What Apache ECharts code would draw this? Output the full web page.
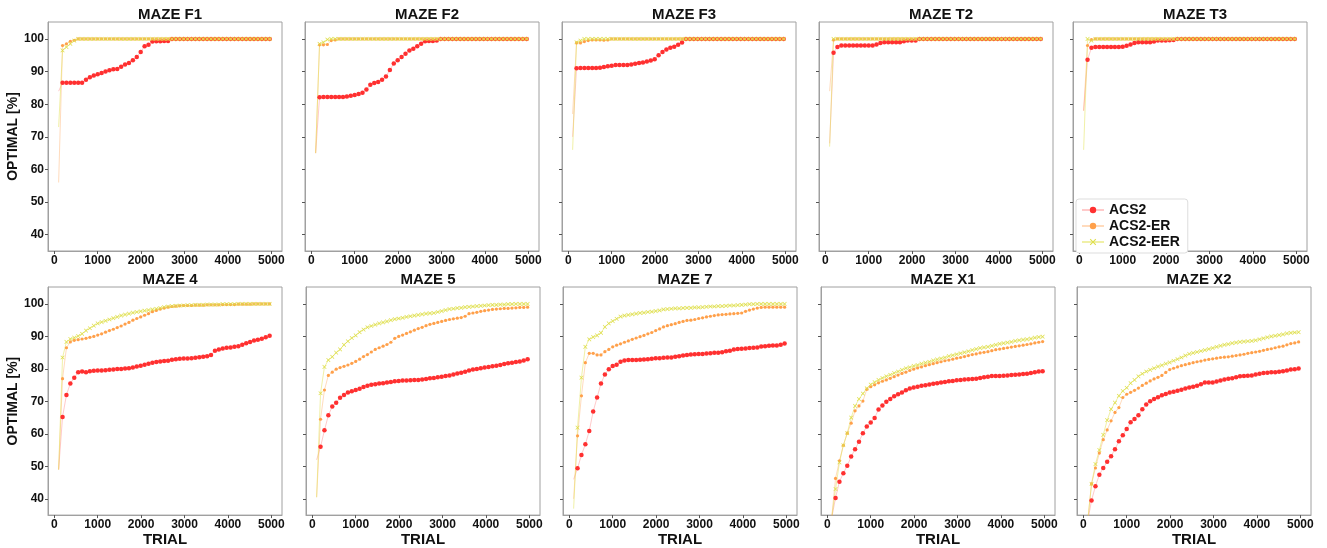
<!doctype html>
<html>
<head>
<meta charset="utf-8">
<title>ACS2 mazes</title>
<script src="https://cdn.jsdelivr.net/npm/echarts@6/dist/echarts.min.js"></script>
<style>
  html, body { margin: 0; padding: 0; background: #fff; }
  #main { width: 1327px; height: 548px; }
</style>
</head>
<body>
<div id="main"></div>
<script type="text/javascript">
// trial numbers of the averaged points
var trials = [100, 190, 280, 370, 460, 550, 640, 730, 820, 910,
  1000, 1090, 1180, 1270, 1360, 1450, 1540, 1630, 1720, 1810,
  1900, 1990, 2080, 2170, 2260, 2350, 2440, 2530, 2620, 2710,
  2800, 2890, 2980, 3070, 3160, 3250, 3340, 3430, 3520, 3610,
  3700, 3790, 3880, 3970, 4060, 4150, 4240, 4330, 4420, 4510,
  4600, 4690, 4780, 4870, 4960];

var seriesNames = ['ACS2', 'ACS2-ER', 'ACS2-EER'];
var mazeTitles = ['MAZE F1', 'MAZE F2', 'MAZE F3', 'MAZE T2', 'MAZE T3',
  'MAZE 4', 'MAZE 5', 'MAZE 7', 'MAZE X1', 'MAZE X2'];
var xTicks = [0, 1000, 2000, 3000, 4000, 5000];
var yTicks = [40, 50, 60, 70, 80, 90, 100];

// MAZE F1
var f1Acs2 = [84, 86.6, 86.6, 86.6, 86.6, 86.6, 86.6, 87.5, 88.3, 88.8,
  89.2, 89.6, 90, 90.4, 90.7, 90.8, 91.5, 92.2, 92.6, 93.5,
  94.5, 96, 97.8, 98.2, 99.2, 99.3, 99.3, 99.4, 99.4, 100,
  100, 100, 100, 100, 100, 100, 100, 100, 100, 100,
  100, 100, 100, 100, 100, 100, 100, 100, 100, 100,
  100, 100, 100, 100, 100];
var f1Er = [56, 98, 98.5, 99.3, 99.6, 100, 100, 100, 100, 100,
  100, 100, 100, 100, 100, 100, 100, 100, 100, 100,
  100, 100, 100, 100, 100, 100, 100, 100, 100, 100,
  100, 100, 100, 100, 100, 100, 100, 100, 100, 100,
  100, 100, 100, 100, 100, 100, 100, 100, 100, 100,
  100, 100, 100, 100, 100];
var f1Eer = [73, 96.5, 97.5, 98.5, 99.5, 100, 100, 100, 100, 100,
  100, 100, 100, 100, 100, 100, 100, 100, 100, 100,
  100, 100, 100, 100, 100, 100, 100, 100, 100, 100,
  100, 100, 100, 100, 100, 100, 100, 100, 100, 100,
  100, 100, 100, 100, 100, 100, 100, 100, 100, 100,
  100, 100, 100, 100, 100];

// MAZE F2
var f2Acs2 = [65, 82.1, 82.2, 82.2, 82.2, 82.2, 82.2, 82.2, 82.4, 82.6,
  82.8, 83.1, 83.5, 84.5, 86, 86.5, 86.8, 87.5, 88.5, 90.5,
  92.5, 93.5, 94.5, 95.5, 96.5, 97, 97.8, 98.5, 99.3, 99.4,
  99.4, 99.5, 100, 100, 100, 100, 100, 100, 100, 100,
  100, 100, 100, 100, 100, 100, 100, 100, 100, 100,
  100, 100, 100, 100, 100];
var f2Er = [65, 98.2, 98.2, 98.3, 99.5, 99.7, 100, 100, 100, 100,
  100, 100, 100, 100, 100, 100, 100, 100, 100, 100,
  100, 100, 100, 100, 100, 100, 100, 100, 100, 100,
  100, 100, 100, 100, 100, 100, 100, 100, 100, 100,
  100, 100, 100, 100, 100, 100, 100, 100, 100, 100,
  100, 100, 100, 100, 100];
var f2Eer = [65, 98.5, 99, 99.8, 100, 100, 100, 100, 100, 100,
  100, 100, 100, 100, 100, 100, 100, 100, 100, 100,
  100, 100, 100, 100, 100, 100, 100, 100, 100, 100,
  100, 100, 100, 100, 100, 100, 100, 100, 100, 100,
  100, 100, 100, 100, 100, 100, 100, 100, 100, 100,
  100, 100, 100, 100, 100];

// MAZE F3
var f3Acs2 = [70, 91, 91.1, 91.1, 91.1, 91.1, 91.1, 91.2, 91.4, 91.6,
  91.8, 92, 92, 92, 92, 92.2, 92.4, 92.6, 92.8, 93.1,
  93.4, 93.8, 95, 96, 96.8, 97.3, 97.6, 98.2, 98.9, 100,
  100, 100, 100, 100, 100, 100, 100, 100, 100, 100,
  100, 100, 100, 100, 100, 100, 100, 100, 100, 100,
  100, 100, 100, 100, 100];
var f3Er = [77, 98.8, 98.8, 99.2, 99.5, 99.7, 99.7, 99.7, 99.6, 99.7,
  100, 100, 100, 100, 100, 100, 100, 100, 100, 100,
  100, 100, 100, 100, 100, 100, 100, 100, 100, 100,
  100, 100, 100, 100, 100, 100, 100, 100, 100, 100,
  100, 100, 100, 100, 100, 100, 100, 100, 100, 100,
  100, 100, 100, 100, 100];
var f3Eer = [66, 99, 99.5, 100, 100, 100, 100, 100, 100, 100,
  100, 100, 100, 100, 100, 100, 100, 100, 100, 100,
  100, 100, 100, 100, 100, 100, 100, 100, 100, 100,
  100, 100, 100, 100, 100, 100, 100, 100, 100, 100,
  100, 100, 100, 100, 100, 100, 100, 100, 100, 100,
  100, 100, 100, 100, 100];

// MAZE T2
var t2Acs2 = [68, 95.8, 97.5, 98, 98, 98, 98, 98, 98, 98,
  98, 98, 98.3, 98.8, 99, 99, 99, 99, 99, 99.3,
  99.5, 99.5, 99.5, 100, 100, 100, 100, 100, 100, 100,
  100, 100, 100, 100, 100, 100, 100, 100, 100, 100,
  100, 100, 100, 100, 100, 100, 100, 100, 100, 100,
  100, 100, 100, 100, 100];
var t2Er = [84, 99.7, 100, 100, 100, 100, 100, 100, 100, 100,
  100, 100, 100, 100, 100, 100, 100, 100, 100, 100,
  100, 100, 100, 100, 100, 100, 100, 100, 100, 100,
  100, 100, 100, 100, 100, 100, 100, 100, 100, 100,
  100, 100, 100, 100, 100, 100, 100, 100, 100, 100,
  100, 100, 100, 100, 100];
var t2Eer = [67, 100, 100, 100, 100, 100, 100, 100, 100, 100,
  100, 100, 100, 100, 100, 100, 100, 100, 100, 100,
  100, 100, 100, 100, 100, 100, 100, 100, 100, 100,
  100, 100, 100, 100, 100, 100, 100, 100, 100, 100,
  100, 100, 100, 100, 100, 100, 100, 100, 100, 100,
  100, 100, 100, 100, 100];

// MAZE T3
var t3Acs2 = [78, 93.6, 97.3, 97.5, 97.5, 97.5, 97.5, 97.5, 97.5, 97.5,
  97.6, 97.9, 98.3, 98.8, 99, 99, 99, 99, 99.2, 99.5,
  99.5, 99.5, 99.6, 99.7, 100, 100, 100, 100, 100, 100,
  100, 100, 100, 100, 100, 100, 100, 100, 100, 100,
  100, 100, 100, 100, 100, 100, 100, 100, 100, 100,
  100, 100, 100, 100, 100];
var t3Er = [78, 98, 99.8, 100, 100, 100, 100, 100, 100, 100,
  100, 100, 100, 100, 100, 100, 100, 100, 100, 100,
  100, 100, 100, 100, 100, 100, 100, 100, 100, 100,
  100, 100, 100, 100, 100, 100, 100, 100, 100, 100,
  100, 100, 100, 100, 100, 100, 100, 100, 100, 100,
  100, 100, 100, 100, 100];
var t3Eer = [66, 100, 99.5, 100, 100, 100, 100, 100, 100, 100,
  100, 100, 100, 100, 100, 100, 100, 100, 100, 100,
  100, 100, 100, 100, 100, 100, 100, 100, 100, 100,
  100, 100, 100, 100, 100, 100, 100, 100, 100, 100,
  100, 100, 100, 100, 100, 100, 100, 100, 100, 100,
  100, 100, 100, 100, 100];

// MAZE 4
var m4Acs2 = [49, 65.2, 72, 75.5, 77.3, 79, 79.2, 79, 79.3, 79.4,
  79.5, 79.5, 79.6, 79.7, 79.8, 80, 80, 80.1, 80.2, 80.4,
  80.7, 81, 81.3, 81.6, 81.9, 82.1, 82.3, 82.4, 82.5, 82.8,
  83, 83.1, 83.2, 83.2, 83.3, 83.4, 83.6, 83.7, 83.9, 84.3,
  85.6, 86, 86.3, 86.5, 86.6, 86.8, 87, 87.4, 87.9, 88.3,
  88.7, 89, 89.3, 89.7, 90.2];
var m4Er = [49, 77, 86.5, 88.3, 88.8, 89, 89.2, 89.4, 89.7, 90,
  90.4, 90.8, 91.3, 91.8, 92.2, 92.7, 93.2, 93.8, 94.3, 95,
  95.5, 96, 96.5, 97, 97.6, 98, 98.4, 98.7, 99, 99.2,
  99.3, 99.4, 99.5, 99.5, 99.5, 99.6, 99.6, 99.6, 99.7, 99.7,
  99.7, 99.7, 99.8, 99.8, 99.8, 99.8, 99.9, 99.9, 99.9, 99.9,
  100, 100, 100, 100, 100];
var m4Eer = [49, 83.5, 88.3, 89.2, 89.6, 90.1, 90.8, 91.8, 92.5, 93.3,
  94, 94.4, 94.8, 95.2, 95.6, 96, 96.4, 96.7, 97, 97.3,
  97.5, 97.7, 97.9, 98.1, 98.3, 98.5, 98.7, 99, 99.2, 99.3,
  99.4, 99.5, 99.5, 99.6, 99.6, 99.7, 99.7, 99.7, 99.8, 99.8,
  99.8, 99.8, 99.9, 99.9, 99.9, 99.9, 100, 100, 100, 100,
  100, 100, 100, 100, 100];

// MAZE 5
var m5Acs2 = [52, 56, 61.1, 65.7, 68.4, 69.6, 71.1, 72, 72.7, 73.1,
  73.5, 73.9, 74.4, 74.8, 75.1, 75.3, 75.5, 75.6, 75.8, 76,
  76.2, 76.3, 76.4, 76.4, 76.5, 76.6, 76.6, 76.7, 76.9, 77.1,
  77.2, 77.4, 77.6, 77.8, 78, 78.3, 78.6, 78.8, 79.1, 79.5,
  79.8, 80, 80.2, 80.4, 80.6, 80.8, 81, 81.2, 81.5, 81.7,
  81.9, 82.1, 82.3, 82.6, 83];
var m5Er = [40.5, 64.5, 73.5, 78, 79, 79.9, 80.4, 80.8, 81.2, 81.7,
  82.3, 83, 83.8, 84.4, 85.2, 86, 86.5, 87, 87.5, 88.2,
  89.4, 90, 90.4, 90.9, 91.4, 91.9, 92.4, 92.8, 93.3, 93.7,
  94, 94.3, 94.6, 94.9, 95.2, 95.4, 95.6, 95.8, 96.2, 97,
  97.2, 97.4, 97.7, 97.9, 98.1, 98.3, 98.4, 98.5, 98.6, 98.6,
  98.7, 98.8, 98.9, 98.9, 99];
var m5Eer = [40.5, 72.5, 80.6, 82.7, 83.7, 85, 86, 87.4, 88.5, 89.5,
  90.3, 91.3, 92.1, 92.8, 93.2, 93.6, 94, 94.3, 94.6, 95,
  95.3, 95.5, 95.7, 96, 96.2, 96.4, 96.6, 96.8, 97, 97.1,
  97.2, 97.5, 97.8, 98.1, 98.4, 98.5, 98.7, 98.8, 99, 99.1,
  99.2, 99.3, 99.4, 99.5, 99.6, 99.7, 99.7, 99.8, 99.8, 99.9,
  99.9, 100, 100, 100, 100];

// MAZE 7
var m7Acs2 = [46, 49.4, 53.5, 56.8, 60.9, 66.9, 71.2, 75.5, 78.3, 79.9,
  80.9, 81.3, 82.2, 82.6, 82.7, 82.7, 82.7, 82.8, 82.9, 83,
  83.1, 83.3, 83.3, 83.4, 83.5, 83.5, 83.7, 83.9, 84.1, 84.3,
  84.4, 84.5, 84.6, 84.6, 84.7, 84.8, 85, 85, 85.1, 85.4,
  85.6, 86, 86.1, 86.2, 86.3, 86.4, 86.5, 86.6, 86.9, 87,
  87.1, 87.2, 87.2, 87.4, 87.8];
var m7Er = [40, 59.4, 71.7, 81.9, 84.8, 84.8, 84.3, 84.3, 85.3, 86,
  86.8, 87.3, 87.7, 88.2, 88.6, 89.1, 89.5, 89.9, 90.3, 90.8,
  91.2, 91.8, 92.3, 92.9, 93.3, 93.6, 93.9, 94.3, 94.6, 94.9,
  95, 95.2, 95.5, 95.7, 96, 96.2, 96.4, 96.6, 96.7, 96.8,
  96.9, 97, 97.1, 97.2, 97.7, 98.1, 98.4, 98.7, 98.9, 99,
  99, 99, 99, 99, 99];
var m7Eer = [37, 61.9, 77.3, 86.8, 89.1, 89.8, 90.3, 91.1, 92.9, 94,
  94.7, 95.4, 96.1, 96.4, 96.6, 96.8, 97, 97.2, 97.3, 97.5,
  97.6, 97.8, 98, 98.3, 98.4, 98.5, 98.6, 98.6, 98.7, 98.8,
  98.8, 98.9, 98.9, 99, 99.1, 99.2, 99.2, 99.3, 99.3, 99.4,
  99.5, 99.5, 99.6, 99.7, 99.8, 99.9, 99.9, 100, 100, 100,
  100, 100, 100, 100, 100];

// MAZE X1
var x1Acs2 = [34, 40.3, 45.3, 47.9, 50.2, 53, 55.3, 57.6, 60.2, 62.3,
  63.5, 64.9, 67.5, 68.7, 69.9, 70.7, 71.6, 72.2, 72.7, 73.4,
  74, 74.3, 74.5, 74.8, 75, 75.2, 75.4, 75.6, 75.8, 76,
  76.2, 76.3, 76.5, 76.6, 76.7, 76.8, 76.9, 77, 77.2, 77.4,
  77.6, 77.8, 77.8, 77.8, 77.9, 78, 78.1, 78.2, 78.3, 78.4,
  78.5, 78.7, 79, 79.2, 79.3];
var x1Er = [34, 46.3, 51.7, 56.5, 60.2, 63.3, 67.1, 68.6, 70.1, 73.7,
  74.5, 75.1, 75.7, 76.2, 76.6, 77.1, 77.6, 78.1, 78.6, 79,
  79.5, 79.9, 80.3, 80.6, 81, 81.3, 81.6, 81.9, 82.2, 82.5,
  82.7, 83, 83.3, 83.5, 83.8, 84.1, 84.4, 84.6, 84.9, 85.1,
  85.3, 85.6, 85.9, 86.1, 86.3, 86.5, 86.7, 86.9, 87.1, 87.3,
  87.5, 87.7, 88, 88.2, 88.4];
var x1Eer = [34, 43, 51.2, 56.5, 60.2, 65, 68.6, 70.7, 72.4, 74,
  75.2, 75.9, 76.6, 77.2, 77.7, 78.2, 78.7, 79.2, 79.7, 80.2,
  80.5, 80.9, 81.2, 81.6, 81.9, 82.2, 82.6, 82.9, 83.2, 83.5,
  83.9, 84.2, 84.5, 84.8, 85.1, 85.4, 85.8, 86.1, 86.4, 86.6,
  86.8, 87.1, 87.4, 87.7, 87.9, 88.1, 88.3, 88.6, 88.8, 89,
  89.1, 89.3, 89.6, 89.8, 89.9];

// MAZE X2
var x2Acs2 = [33, 39.5, 43.9, 47.4, 49.5, 51.4, 53.1, 55.3, 57.7, 59.6,
  61.5, 63.6, 64.6, 65.7, 67.6, 69, 70, 70.7, 71.3, 71.9,
  72.3, 72.7, 73, 73.3, 73.6, 74, 74.3, 74.5, 74.8, 75.3,
  75.8, 75.8, 75.8, 76.1, 76.4, 76.7, 77, 77.1, 77.4, 77.7,
  77.8, 77.9, 78, 78.3, 78.5, 78.7, 78.8, 79, 79, 79.1,
  79.3, 79.5, 79.8, 79.9, 80.1];
var x2Er = [33, 44.6, 49.5, 54.1, 58.2, 61.2, 64, 66.6, 68.1, 71.2,
  72.2, 72.8, 73.4, 74.1, 74.9, 75.6, 76.3, 76.9, 77.4, 78,
  78.9, 79.8, 80.2, 80.6, 81, 81.3, 81.6, 81.9, 82.2, 82.4,
  82.7, 82.9, 83.1, 83.3, 83.5, 83.6, 83.7, 83.9, 84.1, 84.3,
  84.5, 84.8, 85, 85.2, 85.4, 85.7, 86, 86.2, 86.5, 86.8,
  87, 87.4, 87.8, 88, 88.3];
var x2Eer = [33, 44.6, 50.7, 55, 59.7, 64.2, 67.6, 69.6, 71.7, 73.2,
  74.2, 75.6, 76.6, 77.7, 78.5, 79.2, 79.7, 80.2, 80.7, 81.1,
  81.6, 82, 82.5, 83, 83.5, 84.1, 84.6, 84.9, 85.2, 85.5,
  85.8, 86.1, 86.4, 86.8, 87.1, 87.4, 87.6, 87.9, 88.1, 88.3,
  88.4, 88.5, 88.6, 88.8, 89.1, 89.4, 89.7, 90, 90.2, 90.4,
  90.6, 90.9, 91.1, 91.2, 91.3];

var mazeData = [
  [f1Acs2, f1Er, f1Eer], [f2Acs2, f2Er, f2Eer], [f3Acs2, f3Er, f3Eer],
  [t2Acs2, t2Er, t2Eer], [t3Acs2, t3Er, t3Eer],
  [m4Acs2, m4Er, m4Eer], [m5Acs2, m5Er, m5Eer], [m7Acs2, m7Er, m7Eer],
  [x1Acs2, x1Er, x1Eer], [x2Acs2, x2Er, x2Eer]
];

// panel boxes (px)
var boxLeft = [48, 305, 562, 819, 1073, 48, 306, 563, 821, 1077];
var boxTop = [22, 287];
var boxW = 234, boxH = 229;

var xMark = 'path://M0,1.2 L1.2,0 L5,3.8 L8.8,0 L10,1.2 L6.2,5 L10,8.8 L8.8,10 L5,6.2 L1.2,10 L0,8.8 L3.8,5 Z';
var styles = [
  {color: '#ff3030', line: 'rgba(255,80,80,0.3)', symbol: 'circle', size: 4.5},
  {color: '#ffa04a', line: 'rgba(255,165,90,0.4)', symbol: 'circle', size: 3.2},
  {color: '#dede4a', line: 'rgba(225,225,80,0.5)', symbol: xMark, size: 4.2}
];

var font = '"Liberation Sans", Arial, sans-serif';
var grids = [], xAxes = [], yAxes = [], titles = [], series = [];

for (var p = 0; p < 10; p++) {
  var row = p < 5 ? 0 : 1;
  var firstCol = (p % 5) === 0;
  grids.push({
    left: boxLeft[p], top: boxTop[row], width: boxW, height: boxH,
    show: true, borderColor: '#a0a0a0', borderWidth: 1, backgroundColor: '#fff'
  });
  titles.push({
    text: mazeTitles[p], left: boxLeft[p] + boxW / 2, top: row === 0 ? 2 : 267,
    textAlign: 'center',
    textStyle: {fontFamily: font, fontWeight: 'bold', fontSize: 15, color: '#111'}
  });
  xAxes.push({
    gridIndex: p, type: 'value', min: -145, max: 5245,
    axisLine: {show: true, onZero: false, lineStyle: {color: '#a0a0a0'}},
    axisTick: {show: true, length: 3, customValues: xTicks, lineStyle: {color: '#555'}},
    axisLabel: {show: true, customValues: xTicks, margin: 4,
      formatter: function (v) { return String(v); },
      fontFamily: font, fontWeight: 'bold', fontSize: 12, color: '#111'},
    splitLine: {show: false},
    name: row === 1 ? 'TRIAL' : '', nameLocation: 'middle', nameGap: 15,
    nameTextStyle: {fontFamily: font, fontWeight: 'bold', fontSize: 15, color: '#111'}
  });
  yAxes.push({
    gridIndex: p, type: 'value', min: 35, max: 105.2,
    axisLine: {show: true, onZero: false, lineStyle: {color: '#a0a0a0'}},
    axisTick: {show: true, length: 3, customValues: yTicks, lineStyle: {color: '#555'}},
    axisLabel: {show: firstCol, customValues: yTicks, margin: 4,
      fontFamily: font, fontWeight: 'bold', fontSize: 12, color: '#111'},
    splitLine: {show: false},
    name: firstCol ? 'OPTIMAL [%]' : '', nameLocation: 'middle', nameGap: 20, nameRotate: 90,
    nameTextStyle: {fontFamily: font, fontWeight: 'bold', fontSize: 14, color: '#111'}
  });
  for (var s = 0; s < 3; s++) {
    var vals = mazeData[p][s];
    var pts = [];
    for (var i = 0; i < trials.length; i++) {
      if (i === 0) pts.push({value: [trials[i], vals[i]], symbol: 'none'});
      else pts.push([trials[i], vals[i]]);
    }
    series.push({
      name: seriesNames[s], type: 'line', xAxisIndex: p, yAxisIndex: p,
      data: pts, symbol: styles[s].symbol, symbolSize: styles[s].size,
      showAllSymbol: true, clip: true,
      itemStyle: {color: styles[s].color},
      lineStyle: {color: styles[s].line, width: 1},
      emphasis: {disabled: true}
    });
  }
}

var myChart = echarts.init(document.getElementById('main'));
myChart.setOption({
  animation: false,
  backgroundColor: '#fff',
  title: titles,
  grid: grids,
  xAxis: xAxes,
  yAxis: yAxes,
  legend: {
    data: seriesNames, orient: 'vertical', left: 1076, top: 199,
    itemWidth: 22, itemHeight: 8, itemGap: 2,
    padding: [4, 8, 4, 5],
    backgroundColor: '#fff', borderColor: '#ddd', borderWidth: 1, borderRadius: 3,
    textStyle: {fontFamily: font, fontWeight: 'bold', fontSize: 14, color: '#111'}
  },
  series: series
});
</script>
</body>
</html>
